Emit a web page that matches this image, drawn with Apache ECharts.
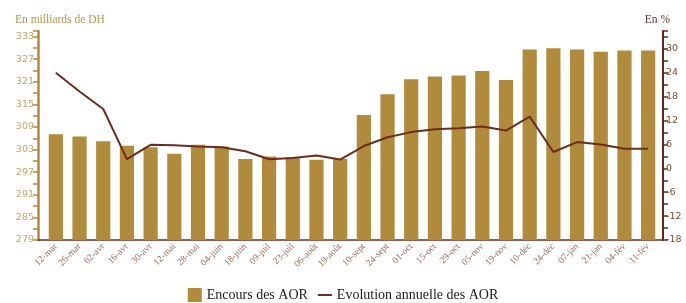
<!DOCTYPE html>
<html><head><meta charset="utf-8">
<script src="https://cdn.jsdelivr.net/npm/echarts@6/dist/echarts.min.js"></script>
<style>html,body{margin:0;padding:0;background:#fff}#c{width:686px;height:303px}</style>
</head><body><div id="c"></div>
<script>
const categories = ["12-mar","26-mar","02-avr","16-avr","30-avr","12-mai","28-mai","04-juin","18-juin","09-juil","23-juil","06-août","19-août","10-sept","24-sept","01-oct","15-oct","29-oct","05-nov","19-nov","10-déc","24-déc","07-jan","21-jan","04-fév","11-fév"];
const encours = [307.1,306.5,305.2,304.0,303.6,301.9,304.3,303.8,300.5,301.2,301.0,300.3,300.5,312.2,317.7,321.7,322.4,322.7,323.9,321.5,329.6,329.9,329.6,329.0,329.3,329.3];
const evolution = [24.0,19.3,14.9,2.3,5.9,5.8,5.5,5.3,4.3,2.3,2.6,3.2,2.2,5.6,7.8,9.1,9.8,10.1,10.5,9.5,13.0,4.1,6.6,6.0,4.9,4.9];
const leftTicks = {min:279, max:334.5, interval:6};
const rightTicks = {min:-18, max:34.5, interval:6};

const gold = '#b08b3b', brown = '#6b2d1c';
const chart = echarts.init(document.getElementById('c'), null, {renderer:'canvas'});
const hideMax = (v)=> (Math.abs((v - leftTicks.min) % 6) < 1e-6 ? String(v) : '');
const hideMaxR = (v)=> (Math.abs((v - rightTicks.min) % 6) < 1e-6 ? String(v) : '');
chart.setOption({
  animation:false,
  textStyle:{fontFamily:'Liberation Serif'},
  grid:[
    {left:38, right:23, top:31, bottom:63},
    {left:44, right:26, top:31, bottom:63}
  ],
  title:[
    {text:'En milliards de DH', left:10, top:9, textStyle:{fontFamily:'Liberation Serif', fontSize:11.5, fontWeight:'normal', color:'#b5964f'}},
    {text:'En %', right:11, top:9, textStyle:{fontFamily:'Liberation Serif', fontSize:11.5, fontWeight:'normal', color:'#5a3a2a'}}
  ],
  legend:{
    top:288, left:'center', itemGap:10, padding:0,
    textStyle:{fontFamily:'Liberation Serif', fontSize:14, color:'#1a1a1a'},
    data:[
      {name:'Encours des AOR', icon:'rect', itemStyle:{color:gold}},
      {name:'Evolution annuelle des AOR', icon:'path://M0,0 H14 V2 H0 Z', itemStyle:{color:brown}}
    ],
    itemWidth:14, itemHeight:14
  },
  xAxis:[
    {type:'category', gridIndex:0, data:categories, axisLine:{show:true, onZero:false, lineStyle:{color:brown, width:1.5}}, axisTick:{show:false}, axisLabel:{show:false}},
    {type:'category', gridIndex:1, data:categories, boundaryGap:true,
     axisLine:{show:false}, axisTick:{show:false},
     axisLabel:{interval:0, rotate:45, margin:5, fontFamily:'Liberation Serif', fontSize:9.5, color:'#946f5a'}}
  ],
  yAxis:[
    {type:'value', gridIndex:0, position:'left', min:leftTicks.min, max:leftTicks.max, interval:leftTicks.interval,
     axisLine:{show:true, lineStyle:{color:'#b08b3b', width:2.5}},
     axisTick:{show:true, length:5, lineStyle:{color:'#b08b3b', width:1.5}},
     minorTick:{show:true, splitNumber:2, length:5, lineStyle:{color:'#b08b3b', width:1.5}},
     splitLine:{show:false},
     axisLabel:{formatter:hideMax, margin:4, fontFamily:'DejaVu Sans', fontSize:9.5, color:'#c2a466'}},
    {type:'value', gridIndex:0, position:'right', min:rightTicks.min, max:rightTicks.max, interval:rightTicks.interval,
     axisLine:{show:true, lineStyle:{color:'#5c2a1a', width:2}},
     axisTick:{show:true, length:5, lineStyle:{color:'#5c2a1a', width:1.5}},
     minorTick:{show:true, splitNumber:2, length:5, lineStyle:{color:'#5c2a1a', width:1.5}},
     splitLine:{show:false},
     axisLabel:{formatter:hideMaxR, margin:3, fontFamily:'DejaVu Sans', fontSize:9.5, color:'#7a4a35'}},
    {type:'value', gridIndex:1, min:leftTicks.min, max:leftTicks.max, show:false, splitLine:{show:false}},
    {type:'value', gridIndex:1, min:rightTicks.min, max:rightTicks.max, show:false, splitLine:{show:false}}
  ],
  series:[
    {name:'Encours des AOR', type:'bar', xAxisIndex:1, yAxisIndex:2, data:encours, barWidth:'60%', itemStyle:{color:gold}},
    {name:'Evolution annuelle des AOR', type:'line', xAxisIndex:1, yAxisIndex:3, data:evolution, symbol:'none', lineStyle:{color:brown, width:2}, itemStyle:{color:brown}}
  ]
});
</script></body></html>
